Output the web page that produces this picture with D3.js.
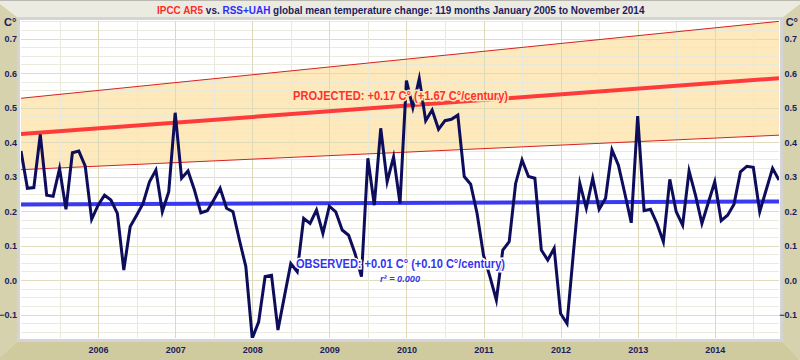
<!DOCTYPE html>
<html><head><meta charset="utf-8">
<script src="https://cdn.jsdelivr.net/npm/d3@7"></script>
<style>
body{margin:0;background:#fff}
svg{display:block}
text{font-family:"Liberation Sans",Arial,sans-serif;font-weight:bold}
</style>
</head><body>
<svg id="chart" width="800" height="360"></svg>
<script>
// ---------- DATA ----------
const startYear = 2005;
const monthCount = 119; // Jan 2005 .. Nov 2014
const yearTicks = [2006, 2007, 2008, 2009, 2010, 2011, 2012, 2013, 2014];
const yTicks = [-0.1, 0.0, 0.1, 0.2, 0.3, 0.4, 0.5, 0.6, 0.7];
const observed = [
  0.374, 0.266, 0.268, 0.422, 0.246, 0.243, 0.323, 0.205, 0.369, 0.374, 0.330, 0.176,
  0.217, 0.246, 0.232, 0.193, 0.029, 0.155, 0.188, 0.222, 0.285, 0.319, 0.198, 0.256,
  0.485, 0.295, 0.316, 0.261, 0.195, 0.201, 0.232, 0.266, 0.208, 0.198, 0.116, 0.039,
  -0.169, -0.121, 0.010, 0.014, -0.145, -0.048, 0.048, 0.024, 0.179, 0.164, 0.203, 0.135,
  0.214, 0.198, 0.145, 0.130, 0.077, 0.010, 0.353, 0.217, 0.440, 0.285, 0.357, 0.222,
  0.578, 0.500, 0.584, 0.462, 0.493, 0.437, 0.462, 0.466, 0.478, 0.300, 0.278, 0.193,
  0.072, 0.010, -0.058, 0.087, 0.111, 0.280, 0.348, 0.300, 0.295, 0.087, 0.058, 0.092,
  -0.097, -0.126, 0.080, 0.280, 0.208, 0.295, 0.205, 0.237, 0.377, 0.333, 0.251, 0.166,
  0.475, 0.201, 0.205, 0.164, 0.111, 0.292, 0.198, 0.159, 0.316, 0.246, 0.164, 0.225,
  0.285, 0.172, 0.188, 0.220, 0.314, 0.330, 0.327, 0.198, 0.261, 0.324, 0.290
];
const observedTrend = [0.219, 0.228];   // start, end
const projectedTrend = [0.4235, 0.585];
const bandUpper = [0.527, 0.750];
const bandLower = [0.320, 0.420];
const titleParts = [
  {t: "IPCC AR5", c: "#ff2a2a"},
  {t: "\u00a0vs.\u00a0", c: "#1c1c60"},
  {t: "RSS+UAH", c: "#2b2bff"},
  {t: "\u00a0global mean temperature change: 119 months January 2005 to November 2014", c: "#1c1c60"}
];
const projLabel = "PROJECTED: +0.17 C\u00b0 (+1.67 C\u00b0/century)";
const obsLabel = "OBSERVED: +0.01 C\u00b0 (+0.10 C\u00b0/century)";
const r2Label = "r\u00b2 = 0.000";

// ---------- LAYOUT ----------
const svg = d3.select("#chart");
const W = 800, H = 360;
const L = 21, R = 779, T = 21, B = 338;
const x = d3.scaleLinear().domain([0, monthCount - 1]).range([L, R]);
const y = d3.scaleLinear().domain([-0.168, 0.751]).range([B, T]);
const navy = "#1c1c60";

// frame (3D box look)
svg.append("rect").attr("width", W).attr("height", H).attr("fill", "#ecebe1");
svg.append("polygon").attr("points", "0,4 18,18 18,341 0,357").attr("fill", "#d5d2ad");
svg.append("polygon").attr("points", "782,18 800,4 800,360 782,341").attr("fill", "#d5d2ad");
svg.append("polygon").attr("points", "18,341 782,341 800,360 0,360 0,357").attr("fill", "#cfcb9f");
svg.append("line").attr("x1",0).attr("x2",W).attr("y1",0.5).attr("y2",0.5).attr("stroke","#b8b8b0");

// plot area
svg.append("rect").attr("x", L - 2.5).attr("y", T - 2.5).attr("width", R - L + 5).attr("height", B - T + 5)
  .attr("fill", "#fff").attr("stroke", "#d4d4d4").attr("stroke-width", 3);

const defs = svg.append("defs");
defs.append("clipPath").attr("id", "clip").append("rect")
  .attr("x", L).attr("y", T).attr("width", R - L).attr("height", B - T);
const g = svg.append("g").attr("clip-path", "url(#clip)");

// band
const ends = [0, monthCount - 1];
g.append("path")
  .datum(ends.map((m, k) => ({m, lo: bandLower[k], hi: bandUpper[k]})))
  .attr("d", d3.area().x(d => x(d.m)).y0(d => y(d.lo)).y1(d => y(d.hi)))
  .attr("fill", "#fde9bb");

// grid
const minorY = d3.range(-0.15, 0.76, 0.025);
g.selectAll(".gy").data(minorY).join("line")
  .attr("x1", L).attr("x2", R)
  .attr("y1", d => Math.round(y(d)) + 0.5).attr("y2", d => Math.round(y(d)) + 0.5)
  .attr("stroke", d => Math.abs(Math.round(d * 10) - d * 10) < 1e-6 ? "#dcdab8" : "#e9e8dc")
  .attr("stroke-width", 1).attr("opacity", 0.9);
const vGrid = d3.range(6, monthCount, 6);
g.selectAll(".gx").data(vGrid).join("line")
  .attr("x1", d => Math.round(x(d)) + 0.5).attr("x2", d => Math.round(x(d)) + 0.5)
  .attr("y1", T).attr("y2", B)
  .attr("stroke", d => d % 12 === 0 ? "#dcdab8" : "#e9e8dc").attr("stroke-width", 1);

// band edges
const lineFn = d3.line().x(d => x(d.m)).y(d => y(d.v));
[bandUpper, bandLower].forEach(b => {
  g.append("path").datum(ends.map((m, k) => ({m, v: b[k]})))
    .attr("d", lineFn).attr("fill", "none").attr("stroke", "#d82020").attr("stroke-width", 1);
});
// trends
g.append("path").datum(ends.map((m, k) => ({m, v: projectedTrend[k]})))
  .attr("d", lineFn).attr("fill", "none").attr("stroke", "#ff3a3a").attr("stroke-width", 4);
g.append("path").datum(ends.map((m, k) => ({m, v: observedTrend[k]})))
  .attr("d", lineFn).attr("fill", "none").attr("stroke", "#3a3af2").attr("stroke-width", 4);

// observed series
g.append("path").datum(observed.map((v, m) => ({m, v})))
  .attr("d", lineFn).attr("fill", "none").attr("stroke", "#0d0d5c")
  .attr("stroke-width", 3).attr("stroke-linejoin", "miter").attr("stroke-miterlimit", 6);

// labels in plot
svg.append("text").attr("x", 293).attr("y", 100).text(projLabel)
  .attr("font-size", 12).attr("fill", "#ff3030")
  .attr("textLength", 215).attr("lengthAdjust", "spacingAndGlyphs")
  .attr("stroke", "#fde9bb").attr("stroke-width", 3).attr("paint-order", "stroke");
svg.append("text").attr("x", 296).attr("y", 268).text(obsLabel)
  .attr("font-size", 12).attr("fill", "#3535ee")
  .attr("textLength", 209).attr("lengthAdjust", "spacingAndGlyphs")
  .attr("stroke", "#fff").attr("stroke-width", 3).attr("paint-order", "stroke");
svg.append("text").attr("x", 380).attr("y", 282).text(r2Label)
  .attr("font-size", 9).attr("font-style", "italic").attr("fill", "#3535ee")
  .attr("textLength", 40).attr("lengthAdjust", "spacingAndGlyphs");

// title (drawn at natural width, then horizontally fitted to the reference width)
const titleG = svg.append("g");
const title = titleG.append("text").attr("x", 0).attr("y", 0).attr("font-size", 11);
title.selectAll("tspan").data(titleParts).join("tspan").attr("fill", d => d.c).text(d => d.t);
const tw = title.node().getComputedTextLength();
titleG.attr("transform", `translate(157,14) scale(${488 / tw},1)`);

// C° units
svg.append("text").attr("x", 4).attr("y", 26).attr("font-size", 11).attr("fill", navy).text("C\u00b0");
svg.append("text").attr("x", 798).attr("y", 26).attr("font-size", 11).attr("fill", navy)
  .attr("text-anchor", "end").text("C\u00b0");

// y axes
const fmt = d3.format(".1f");
const yl = d3.axisLeft(y).tickValues(yTicks).tickFormat(fmt).tickSize(0).tickPadding(0);
const yr = d3.axisLeft(y).tickValues(yTicks).tickFormat(fmt).tickSize(0).tickPadding(0);
const gl = svg.append("g").attr("transform", "translate(17,0)").call(yl);
const gr = svg.append("g").attr("transform", "translate(797,0)").call(yr);
[gl, gr].forEach(a => {
  a.select(".domain").remove();
  a.selectAll("text").attr("font-size", 9).attr("fill", navy)
    .attr("font-family", "'Liberation Sans',Arial,sans-serif").attr("font-weight", "bold")
    .attr("dy", "0.35em");
});

// x axis
const xa = d3.axisBottom(x).tickValues(yearTicks.map(yv => (yv - startYear) * 12))
  .tickFormat(m => String(startYear + m / 12)).tickSize(0).tickPadding(0);
const gx = svg.append("g").attr("transform", "translate(0,347)").call(xa);
gx.select(".domain").remove();
gx.selectAll("text").attr("font-size", 9).attr("fill", navy)
  .attr("font-family", "'Liberation Sans',Arial,sans-serif").attr("font-weight", "bold");
</script>
</body></html>
